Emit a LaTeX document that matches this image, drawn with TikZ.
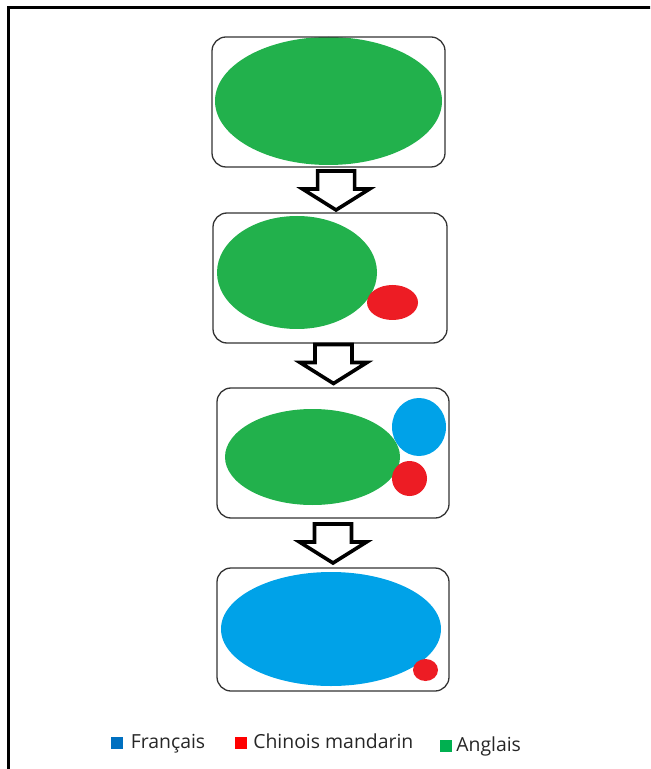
\documentclass[tikz,border=0pt]{standalone}
\usepackage{fontspec}
\setmainfont{Open Sans}
\usepackage[]{xcolor}
\usepackage{tikz}
\usetikzlibrary{calc,positioning}

\definecolor{pgreen}{HTML}{22B14C}
\definecolor{pred}{HTML}{ED1C24}
\definecolor{pblue}{HTML}{00A2E8}
\definecolor{lblue}{HTML}{0070C0}
\definecolor{lred}{HTML}{FF0000}
\definecolor{lgreen}{HTML}{00B050}

\begin{document}
\begin{tikzpicture}[x=0.5pt,y=-0.5pt]
\tikzstyle{stage}=[draw=black!80,line width=0.65pt,rounded corners=7pt,inner sep=0pt,minimum width=116.5pt,minimum height=65pt]
\tikzstyle{blockarr}=[draw=black,fill=white,line width=1.8pt,line join=miter]
\tikzstyle{legsq}=[rectangle,inner sep=0pt,minimum size=6pt]
\tikzstyle{legtxt}=[inner sep=0pt,font=\fontsize{9.7}{12}\selectfont,text=black!85]

\def\arrowshape{(-18.5,-19) -- (18.5,-19) -- (18.5,-1) -- (33.5,-1) -- (0,20) -- (-33.5,-1) -- (-18.5,-1) -- cycle}
\clip (0,0) rectangle (650,769);
\draw[line width=1.5pt] (8,790) -- (8,8) -- (670,8);

% languages inside each stage
\fill[pgreen] (328.5,101) ellipse [x radius=113.5, y radius=64];
\fill[pgreen] (297,272.5) ellipse [x radius=80, y radius=56.5];
\fill[pred] (392.5,302.5) ellipse [x radius=25.5, y radius=17.5];
\fill[pgreen] (312.5,457) ellipse [x radius=87.5, y radius=48];
\fill[pblue] (419,427) ellipse [x radius=27, y radius=29];
\fill[pred] (409.5,478.5) ellipse [x radius=17.5, y radius=17.5];
\fill[pblue] (331,629) ellipse [x radius=110, y radius=57];
\fill[pred] (425.5,670) ellipse [x radius=12.5, y radius=11];

\node[stage] (s1) at (328.5,102) {};
\node[stage,minimum width=117pt] (s2) at (330,278) {};
\node[stage,minimum width=116pt] (s3) at (333,453) {};
\node[stage,minimum width=116pt,minimum height=61.5pt] (s4) at (333,629.5) {};

\draw[blockarr,shift={($(s1.south)!.5!(s2.north)$)},xshift=3.4pt] \arrowshape;
\draw[blockarr,shift={($(s2.south)!.5!(s3.north)$)},xshift=1pt,yshift=1pt] \arrowshape;
\draw[blockarr,shift={($(s3.south)!.5!(s4.north)$)}] \arrowshape;

% legend
\node[legsq,fill=lblue] (sqfr) at (117,742.5) {};
\node[legtxt,right=3.5pt of sqfr.south east,anchor=base west] (txfr) {Français};
\node[legsq,fill=lred] (sqzh) at (240.5,742.5) {};
\node[legtxt,right=3pt of sqzh.south east,anchor=base west] (txzh) {Chinois mandarin};
\node[legsq,fill=lgreen] (sqen) at (445.5,745.5) {};
\node[legtxt,right=2pt of sqen.south east,anchor=base west] (txen) {Anglais};
\end{tikzpicture}
\end{document}
